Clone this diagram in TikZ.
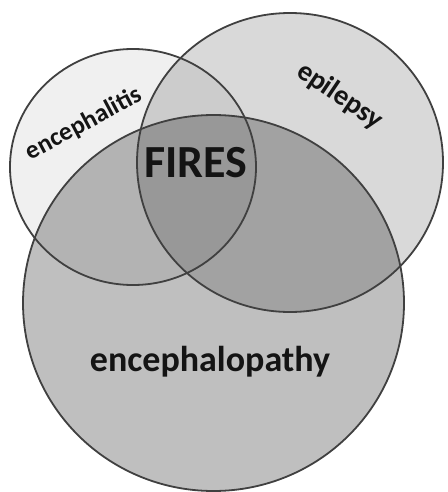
\documentclass[tikz,border=0pt]{standalone}
\usepackage{fontspec}
\setmainfont{Carlito}
\begin{document}
\begin{tikzpicture}[x=1pt,y=-1pt,
  setfill/.style={fill=black,fill opacity=#1},
  ring/.style={draw=black!75,line width=1.8pt},
  lbl/.style={font=\bfseries, text=black!92, inner sep=0pt}]
\useasboundingbox (0,0) rectangle (447,492);
\fill[white] (0,0) rectangle (447,492);
% fills
\fill[setfill=0.06] (133,167) ellipse [x radius=123, y radius=118];
\fill[setfill=0.15] (290,162.5) ellipse [x radius=153, y radius=149.5];
\fill[setfill=0.25] (213.5,303) ellipse [x radius=190.5, y radius=188];
% outlines
\draw[ring] (133,167) ellipse [x radius=123, y radius=118];
\draw[ring] (290,162.5) ellipse [x radius=153, y radius=149.5];
\draw[ring] (213.5,303) ellipse [x radius=190.5, y radius=188];
% labels
\node[lbl, font=\bfseries\fontsize{46}{46}\selectfont] (fires) at (196,163) {FIRES};
\node[lbl, font=\bfseries\fontsize{36}{36}\selectfont] (encpathy) at (210,362) {encephalopathy};
\node[lbl, font=\bfseries\fontsize{25.5}{25.5}\selectfont, rotate=28] (encitis) at (84,124) {encephalitis};
\node[lbl, font=\bfseries\fontsize{28.5}{28.5}\selectfont, rotate=-34] (epil) at (340,96) {epilepsy};
\end{tikzpicture}
\end{document}
